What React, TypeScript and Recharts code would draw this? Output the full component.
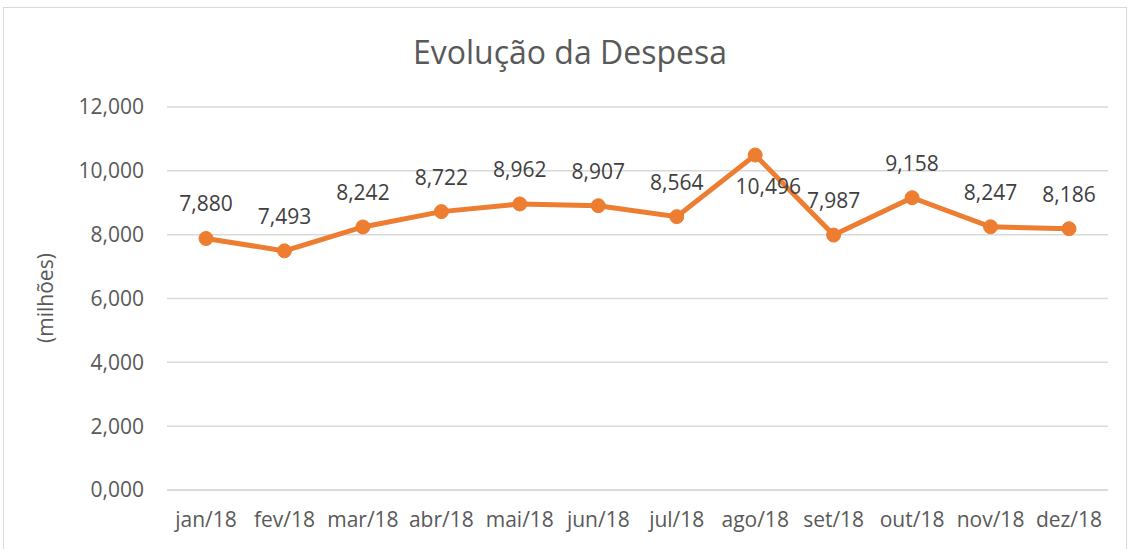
import React from "react";
import { LineChart, Line, XAxis, YAxis, CartesianGrid, LabelList } from "recharts";

const months = ["jan/18", "fev/18", "mar/18", "abr/18", "mai/18", "jun/18", "jul/18", "ago/18", "set/18", "out/18", "nov/18", "dez/18"];
const despesa = [7880, 7493, 8242, 8722, 8962, 8907, 8564, 10496, 7987, 9158, 8247, 8186];
const yTicks = [0, 2000, 4000, 6000, 8000, 10000, 12000];

const data = months.map((m, i) => ({ mes: m, valor: despesa[i] }));

const fmt = (n: number) => (n / 1000).toFixed(3).replace(".", ",");
const FONT = "'Open Sans', sans-serif";

const renderLabel = (props: any) => {
  const { x, y, value, index } = props;
  const below = index === 7;
  return (
    <text
      x={below ? x + 13 : x}
      y={below ? y + 39 : y - 27}
      textAnchor="middle"
      fill="#404040"
      fontSize={21}
      fontFamily={FONT}
    >
      {fmt(value)}
    </text>
  );
};

export default function App() {
  return (
    <div style={{ position: "fixed", left: 0, top: 0, width: 1132, height: 549, background: "#fff", overflow: "hidden" }}>
      <div
        style={{
          position: "absolute",
          left: 3,
          top: 7,
          width: 1124,
          height: 560,
          border: "1.5px solid #d9d9d9",
          boxSizing: "border-box",
        }}
      />
      <div style={{ position: "absolute", left: 0, top: 0 }}>
        <LineChart width={1132} height={549} data={data} margin={{ top: 107, right: 24, bottom: 0, left: 0 }}>
          <text x={570} y={64} textAnchor="middle" fontSize={32} fill="#595959" fontFamily={FONT}>
            Evolução da Despesa
          </text>
          <text
            x={45}
            y={298}
            textAnchor="middle"
            dominantBaseline="central"
            fontSize={21}
            fill="#595959"
            fontFamily={FONT}
            transform="rotate(-90 45 298)"
          >
            (milhões)
          </text>
          <CartesianGrid vertical={false} stroke="#d9d9d9" strokeWidth={1.5} />
          <XAxis
            dataKey="mes"
            height={59}
            padding={{ left: 39, right: 39 }}
            axisLine={{ stroke: "#d9d9d9", strokeWidth: 1.5 }}
            tickLine={false}
            tickMargin={16}
            tick={{ fill: "#595959", fontSize: 21, fontFamily: FONT }}
            interval={0}
          />
          <YAxis
            width={167}
            domain={[0, 12000]}
            ticks={yTicks}
            axisLine={false}
            tickLine={false}
            tickMargin={17}
            tickFormatter={fmt}
            tick={{ fill: "#595959", fontSize: 21, fontFamily: FONT }}
          />
          <Line
            type="linear"
            dataKey="valor"
            stroke="#ED7D31"
            strokeWidth={5}
            dot={{ r: 7, fill: "#ED7D31", stroke: "#ED7D31", strokeWidth: 1 }}
            isAnimationActive={false}
          >
            <LabelList dataKey="valor" content={renderLabel} />
          </Line>
        </LineChart>
      </div>
    </div>
  );
}
